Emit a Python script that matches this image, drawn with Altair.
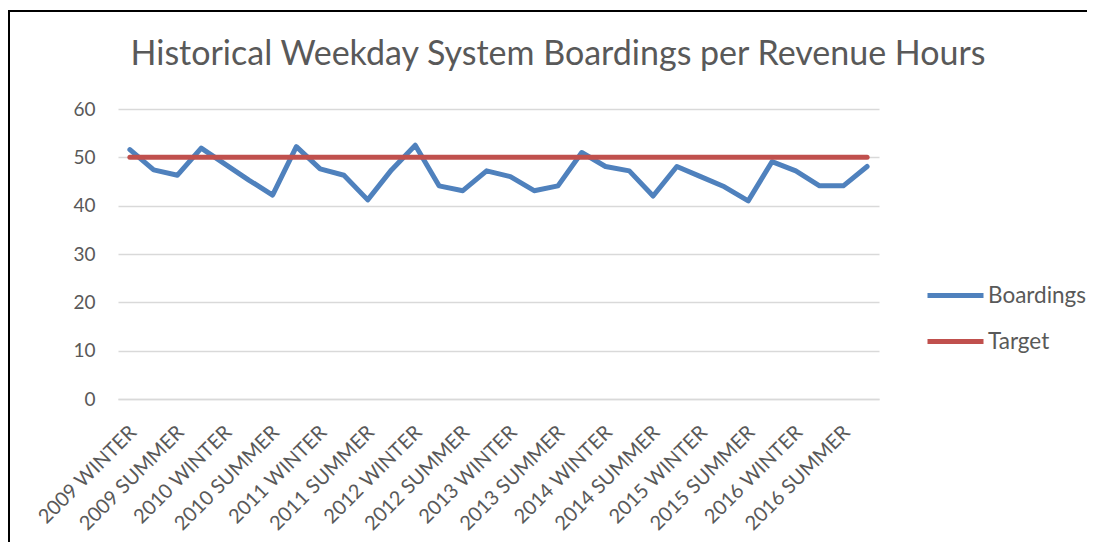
import altair as alt
import pandas as pd

categories = [
    "2009 WINTER", "2009 SPRING", "2009 SUMMER", "2009 FALL",
    "2010 WINTER", "2010 SPRING", "2010 SUMMER", "2010 FALL",
    "2011 WINTER", "2011 SPRING", "2011 SUMMER", "2011 FALL",
    "2012 WINTER", "2012 SPRING", "2012 SUMMER", "2012 FALL",
    "2013 WINTER", "2013 SPRING", "2013 SUMMER", "2013 FALL",
    "2014 WINTER", "2014 SPRING", "2014 SUMMER", "2014 FALL",
    "2015 WINTER", "2015 SPRING", "2015 SUMMER", "2015 FALL",
    "2016 WINTER", "2016 SPRING", "2016 SUMMER", "2016 FALL",
]
boardings = [
    51.6, 47.4, 46.3, 51.9,
    48.6, 45.3, 42.2, 52.2,
    47.6, 46.3, 41.2, 47.4,
    52.5, 44.1, 43.1, 47.2,
    46.0, 43.1, 44.1, 51.0,
    48.1, 47.2, 42.0, 48.1,
    46.0, 43.9, 41.0, 49.1,
    47.2, 44.1, 44.1, 48.1,
]
target = [50] * len(categories)
shown_labels = [c for c in categories if c.endswith("WINTER") or c.endswith("SUMMER")]
series_names = ["Boardings", "Target"]
series_colors = ["#4F81BD", "#C0504D"]
title_text = "Historical Weekday System Boardings per Revenue Hours"

rows = []
for i, c in enumerate(categories):
    rows.append({"period": c, "series": "Boardings", "value": boardings[i]})
for i, c in enumerate(categories):
    rows.append({"period": c, "series": "Target", "value": target[i]})
df = pd.DataFrame(rows)

FONT = "Lato"
GREY = "#595959"

lines = alt.Chart(df).mark_line(strokeWidth=5, strokeCap="round", strokeJoin="round").encode(
    x=alt.X("period:N", sort=categories,
            scale=alt.Scale(type="point", padding=0.5),
            axis=alt.Axis(title=None, values=shown_labels, labelAngle=-45,
                          labelAlign="right", labelBaseline="middle",
                          labelFontSize=20, labelColor=GREY, labelFont=FONT,
                          labelPadding=30, labelOffset=3, ticks=False, domain=True,
                          domainColor="#D9D9D9", domainWidth=1.3, grid=False,
                          labelOverlap=False, labelBound=False, labelFlush=False)),
    y=alt.Y("value:Q", scale=alt.Scale(domain=[0, 60]),
            axis=alt.Axis(title=None, values=[0, 10, 20, 30, 40, 50, 60],
                          labelFontSize=19, labelColor=GREY, labelFont=FONT,
                          labelPadding=23, ticks=False, domain=False,
                          grid=True, gridColor="#D9D9D9", gridWidth=1.3)),
    color=alt.Color("series:N", sort=series_names,
                    scale=alt.Scale(domain=series_names, range=series_colors),
                    legend=alt.Legend(title=None, orient="none", legendX=807, legendY=156,
                                      symbolType="stroke", symbolStrokeWidth=5,
                                      symbolSize=3136, labelFontSize=22.5,
                                      labelColor=GREY, labelFont=FONT,
                                      labelOffset=2, rowPadding=4)),
    order=alt.Order("series:N"),
)

title = alt.Chart(alt.Data(values=[{"t": title_text}])).mark_text(
    font=FONT, fontSize=34, color=GREY, align="center", baseline="alphabetic"
).encode(text="t:N", x=alt.value(440), y=alt.value(-44))

border_left = alt.Chart(alt.Data(values=[{}])).mark_rule(
    color="#000000", strokeWidth=2, clip=False
).encode(x=alt.value(-109), y=alt.value(-98), y2=alt.value(500))

border_top = alt.Chart(alt.Data(values=[{}])).mark_rule(
    color="#000000", strokeWidth=2, clip=False
).encode(x=alt.value(-110), x2=alt.value(1200), y=alt.value(-98))

chart = alt.layer(lines, title, border_left, border_top).properties(
    width=761, height=290,
    autosize=alt.AutoSizeParams(type="none"),
    padding={"left": 110, "top": 101, "right": 208, "bottom": 143},
).configure(background="white").configure_view(stroke=None)

chart.save("out.html", embed_options={"renderer": "svg", "actions": False})
